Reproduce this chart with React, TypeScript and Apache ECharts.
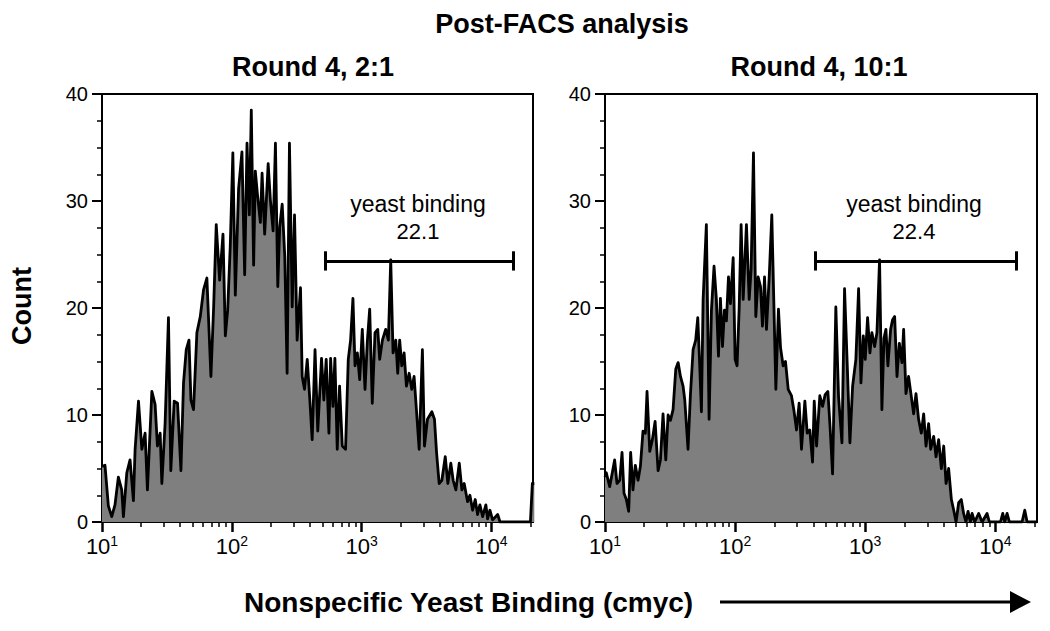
import React, { useEffect, useRef } from "react";
import * as echarts from "echarts";

// ---- Data (x is log10 of cmyc fluorescence) ----
const mainTitle = "Post-FACS analysis";
const panelTitles = ["Round 4, 2:1", "Round 4, 10:1"];
const gateName = "yeast binding";
const gateValues = ["22.1", "22.4"];
const xAxisTitle = "Nonspecific Yeast Binding (cmyc)";
const yAxisTitle = "Count";

const xMajorTicks = [1, 2, 3, 4];
const xMinorMultipliers = [2, 3, 4, 5, 6, 7, 8, 9];
const yTicks = [0, 10, 20, 30, 40];

const round4a_logX = [
  1.0, 1.023, 1.049, 1.075, 1.1, 1.126, 1.152, 1.165, 1.191, 1.216, 1.242, 1.255, 1.281, 1.307, 1.332, 1.35,
  1.384, 1.409, 1.427, 1.448, 1.461, 1.486, 1.512, 1.53, 1.556, 1.582, 1.608, 1.628, 1.649, 1.67, 1.685, 1.705,
  1.731, 1.757, 1.782, 1.808, 1.839, 1.86, 1.88, 1.906, 1.932, 1.95, 1.968, 1.988, 2.008, 2.027, 2.052, 2.078,
  2.099, 2.117, 2.135, 2.15, 2.168, 2.181, 2.199, 2.22, 2.233, 2.253, 2.28, 2.297, 2.318, 2.336, 2.354, 2.369,
  2.388, 2.408, 2.426, 2.444, 2.465, 2.483, 2.503, 2.529, 2.542, 2.56, 2.581, 2.601, 2.619, 2.641, 2.662, 2.691,
  2.709, 2.727, 2.748, 2.761, 2.779, 2.794, 2.812, 2.83, 2.851, 2.876, 2.897, 2.915, 2.933, 2.949, 2.967, 2.985,
  3.005, 3.026, 3.044, 3.062, 3.082, 3.103, 3.124, 3.139, 3.16, 3.185, 3.206, 3.224, 3.242, 3.263, 3.278, 3.293,
  3.309, 3.327, 3.345, 3.366, 3.386, 3.404, 3.422, 3.443, 3.468, 3.484, 3.507, 3.541, 3.561, 3.577, 3.597, 3.618,
  3.644, 3.664, 3.687, 3.705, 3.726, 3.752, 3.772, 3.79, 3.816, 3.834, 3.855, 3.875, 3.893, 3.911, 3.932, 3.957,
  3.97, 3.988, 4.009, 4.048, 4.066, 4.3, 4.315, 4.33,
];
const round4a_count = [
  5.2, 5.3, 1.5, 0.5, 1.6, 4.2, 3.0, 0.5, 4.6, 5.8, 2.0, 6.8, 11.3, 6.8, 8.3, 3.0,
  12.2, 11.0, 7.1, 8.3, 3.6, 9.2, 19.1, 4.8, 11.3, 11.1, 4.8, 13.0, 16.1, 17.0, 11.4, 10.5,
  17.7, 19.2, 21.7, 22.8, 13.6, 20.1, 27.8, 22.6, 26.9, 17.4, 19.8, 25.8, 34.5, 21.2, 31.1, 34.6,
  23.1, 35.4, 28.7, 38.5, 24.0, 32.8, 30.4, 28.0, 32.6, 26.9, 33.5, 30.1, 27.2, 35.4, 22.0, 27.6,
  29.7, 24.8, 13.9, 35.4, 20.1, 28.7, 17.0, 21.9, 13.6, 12.4, 15.2, 11.4, 7.7, 16.1, 8.5, 15.3,
  11.4, 15.2, 8.3, 15.3, 10.8, 15.3, 6.8, 12.7, 7.1, 6.8, 15.2, 17.0, 20.9, 14.6, 15.8, 13.3,
  18.0, 12.4, 16.9, 19.9, 11.1, 17.7, 18.0, 15.2, 17.0, 18.0, 17.0, 24.5, 15.8, 17.0, 13.9, 17.0,
  14.6, 15.8, 12.7, 13.9, 12.4, 13.6, 10.5, 6.8, 16.1, 7.1, 9.6, 10.3, 9.6, 6.5, 3.6, 3.9,
  6.1, 3.6, 5.5, 3.9, 3.0, 5.5, 3.0, 3.6, 1.9, 2.5, 1.1, 2.1, 0.7, 1.6, 0.5, 1.6,
  0.3, 1.1, 0.2, 0.7, 0.0, 0.0, 3.6, 3.6,
];

const round4b_logX = [
  1.0, 1.01, 1.036, 1.056, 1.074, 1.092, 1.113, 1.131, 1.146, 1.164, 1.182, 1.197, 1.215, 1.233, 1.254, 1.272,
  1.292, 1.31, 1.323, 1.344, 1.364, 1.385, 1.408, 1.426, 1.446, 1.467, 1.485, 1.503, 1.523, 1.544, 1.562, 1.58,
  1.6, 1.613, 1.638, 1.656, 1.677, 1.697, 1.713, 1.728, 1.741, 1.754, 1.779, 1.8, 1.818, 1.838, 1.856, 1.872,
  1.887, 1.903, 1.918, 1.933, 1.949, 1.964, 1.985, 2.0, 2.015, 2.031, 2.046, 2.062, 2.087, 2.108, 2.123, 2.141,
  2.159, 2.177, 2.195, 2.21, 2.226, 2.241, 2.262, 2.282, 2.297, 2.313, 2.333, 2.349, 2.369, 2.387, 2.408, 2.433,
  2.451, 2.472, 2.492, 2.51, 2.536, 2.554, 2.574, 2.595, 2.608, 2.626, 2.651, 2.672, 2.692, 2.713, 2.731, 2.749,
  2.774, 2.795, 2.821, 2.841, 2.862, 2.882, 2.903, 2.928, 2.949, 2.967, 2.985, 3.0, 3.018, 3.036, 3.051, 3.072,
  3.09, 3.11, 3.128, 3.144, 3.159, 3.174, 3.195, 3.21, 3.226, 3.244, 3.262, 3.282, 3.295, 3.313, 3.333, 3.351,
  3.372, 3.39, 3.41, 3.431, 3.449, 3.467, 3.487, 3.503, 3.526, 3.544, 3.564, 3.585, 3.603, 3.621, 3.641, 3.662,
  3.68, 3.698, 3.718, 3.738, 3.756, 3.774, 3.79, 3.808, 3.821, 3.841, 3.872, 3.898, 3.936, 3.954, 4.039, 4.057,
  4.072, 4.09, 4.108, 4.205, 4.226, 4.244, 4.32,
];
const round4b_count = [
  4.2, 4.6, 3.3, 4.6, 5.8, 3.6, 3.9, 6.5, 2.7, 2.1, 1.0, 6.5, 3.0, 5.3, 3.9, 5.2,
  8.5, 8.3, 12.2, 6.6, 7.7, 9.4, 4.8, 5.8, 10.1, 5.8, 10.0, 9.5, 10.5, 14.3, 14.9, 13.6,
  12.7, 11.4, 6.8, 11.8, 16.1, 17.0, 19.1, 14.6, 10.3, 20.8, 27.8, 9.6, 19.8, 23.9, 20.8, 15.5,
  20.9, 16.4, 19.8, 18.8, 22.9, 20.4, 24.7, 15.2, 14.6, 19.9, 27.8, 20.8, 27.8, 20.8, 23.6, 34.5,
  19.2, 22.9, 22.0, 18.3, 22.9, 18.0, 22.9, 28.7, 20.8, 12.4, 19.9, 16.3, 14.6, 15.0, 12.4, 11.8,
  10.5, 8.6, 11.1, 6.8, 11.3, 8.3, 8.6, 5.6, 11.3, 7.1, 11.8, 10.8, 11.9, 12.2, 8.6, 4.5,
  20.1, 11.7, 7.4, 21.8, 14.6, 7.4, 12.7, 15.2, 21.8, 13.0, 17.4, 15.2, 19.1, 15.8, 17.7, 16.4,
  17.7, 24.5, 10.5, 17.2, 18.0, 14.6, 18.0, 18.9, 19.2, 13.6, 16.7, 14.9, 18.0, 12.0, 13.6, 12.0,
  10.1, 12.0, 9.6, 8.3, 10.1, 7.1, 9.2, 6.8, 8.0, 6.1, 7.7, 5.0, 7.1, 3.6, 5.0, 2.1,
  1.1, 0.0, 1.8, 2.1, 0.8, 0.0, 1.0, 0.0, 0.8, 0.0, 0.8, 0.0, 0.8, 0.0, 0.0, 0.8,
  0.0, 0.8, 0.0, 0.0, 1.1, 0.0, 0.0,
];

// gate bars: [start, end] in log10 units, and the count level of the bar
const gateRanges = [
  [2.717, 4.168],
  [2.615, 4.162],
];
const gateLevel = 24.4;

const FONT = '"Liberation Sans", Arial, Helvetica, sans-serif';

export default function App() {
  const ref = useRef<HTMLDivElement>(null);

  useEffect(() => {
    if (!ref.current) return;
    const chart = echarts.init(ref.current, null, { renderer: "svg" });

    const xMinorTicks: number[] = [];
    for (let d = 1; d <= 4; d++) {
      for (const m of xMinorMultipliers) {
        const v = d + Math.log10(m);
        if (v <= 4.32) xMinorTicks.push(v);
      }
    }

    const panels = [
      { x: round4a_logX, y: round4a_count, left: 102, width: 431 },
      { x: round4b_logX, y: round4b_count, left: 605, width: 432 },
    ];

    const grid: any[] = [];
    const xAxis: any[] = [];
    const yAxis: any[] = [];
    const series: any[] = [];

    panels.forEach((p, i) => {
      grid.push({
        left: p.left,
        top: 94,
        width: p.width,
        height: 428,
        show: true,
        borderColor: "#000",
        borderWidth: 2,
        backgroundColor: "transparent",
      });
      xAxis.push({
        type: "value",
        gridIndex: i,
        position: "bottom",
        min: 1,
        max: 4.32,
        interval: 1,
        axisLine: { show: true, onZero: false, lineStyle: { color: "#000", width: 2 } },
        axisTick: {
          show: true,
          length: 10,
          customValues: xMajorTicks,
          lineStyle: { color: "#000", width: 2.5 },
        },
        axisLabel: {
          customValues: xMajorTicks,
          margin: 12,
          formatter: (v: number) =>
            xMajorTicks.indexOf(v) >= 0 ? `{b|10}{s|${v}}` : "",
          rich: {
            b: { fontSize: 22, fontFamily: FONT, color: "#000", lineHeight: 25 },
            s: {
              fontSize: 14,
              fontFamily: FONT,
              color: "#000",
              verticalAlign: "top",
              lineHeight: 15,
            },
          },
        },
        splitLine: { show: false },
      });
      xAxis.push({
        type: "value",
        gridIndex: i,
        position: "bottom",
        min: 1,
        max: 4.32,
        axisLine: { show: false, onZero: false },
        axisTick: {
          show: true,
          length: 5,
          customValues: xMinorTicks,
          lineStyle: { color: "#000", width: 1.5 },
        },
        axisLabel: { show: false },
        splitLine: { show: false },
      });
      yAxis.push({
        type: "value",
        gridIndex: i,
        min: 0,
        max: 40,
        interval: 10,
        axisLine: { show: true, onZero: false, lineStyle: { color: "#000", width: 2 } },
        axisTick: { show: true, length: 10, lineStyle: { color: "#000", width: 2 } },
        minorTick: {
          show: true,
          splitNumber: 4,
          length: 5,
          lineStyle: { color: "#000", width: 1.5 },
        },
        axisLabel: {
          fontSize: 20,
          fontFamily: FONT,
          color: "#000",
          margin: 14,
          formatter: (v: number) => (yTicks.indexOf(v) >= 0 ? String(v) : ""),
        },
        splitLine: { show: false },
      });

      const g = gateRanges[i];
      const cap = 0.9;
      series.push({
        type: "line",
        xAxisIndex: i * 2,
        yAxisIndex: i,
        data: p.x.map((xv, k) => [xv, p.y[k]]),
        symbol: "none",
        showSymbol: false,
        lineStyle: { color: "#000", width: 2.8, join: "round" },
        areaStyle: { color: "#7f7f7f", opacity: 1 },
        silent: true,
        markLine: {
          silent: true,
          symbol: ["none", "none"],
          label: { show: false },
          lineStyle: { color: "#000", width: 3, type: "solid" },
          data: [
            [{ coord: [g[0], gateLevel] }, { coord: [g[1], gateLevel] }],
            [{ coord: [g[0], gateLevel - cap] }, { coord: [g[0], gateLevel + cap] }],
            [{ coord: [g[1], gateLevel - cap] }, { coord: [g[1], gateLevel + cap] }],
          ],
        },
      });
    });

    const txt = (
      text: string,
      x: number,
      y: number,
      font: string,
      extra: any = {}
    ) => ({
      type: "text",
      x,
      y,
      silent: true,
      ...extra,
      style: {
        text,
        font,
        fill: "#000",
        align: "center",
        verticalAlign: "middle",
        textAlign: "center",
        textVerticalAlign: "middle",
      },
    });

    const graphic: any[] = [
      txt(mainTitle, 562, 24, `bold 27px ${FONT}`),
      txt(panelTitles[0], 313, 67, `bold 27px ${FONT}`),
      txt(panelTitles[1], 819, 67, `bold 27px ${FONT}`),
      txt(gateName, 418, 204, `23px ${FONT}`),
      txt(gateValues[0], 418, 231, `22px ${FONT}`),
      txt(gateName, 914, 204, `23px ${FONT}`),
      txt(gateValues[1], 914, 231, `22px ${FONT}`),
      txt(yAxisTitle, 22, 306, `bold 27px ${FONT}`, { rotation: Math.PI / 2 }),
      {
        type: "text",
        x: 244,
        y: 602,
        silent: true,
        style: {
          text: xAxisTitle,
          font: `bold 28px ${FONT}`,
          fill: "#000",
          align: "left",
          textAlign: "left",
          verticalAlign: "middle",
          textVerticalAlign: "middle",
        },
      },
      {
        type: "line",
        silent: true,
        shape: { x1: 720, y1: 602, x2: 1016, y2: 602 },
        style: { stroke: "#000", lineWidth: 3 },
      },
      {
        type: "polygon",
        silent: true,
        shape: {
          points: [
            [1010, 591],
            [1031, 602],
            [1010, 613],
          ],
        },
        style: { fill: "#000" },
      },
    ];

    chart.setOption({
      animation: false,
      backgroundColor: "#fff",
      grid,
      xAxis,
      yAxis,
      series,
      graphic,
    });

    return () => chart.dispose();
  }, []);

  return (
    <div
      ref={ref}
      style={{ position: "absolute", left: 0, top: 0, width: 1050, height: 631 }}
    />
  );
}
